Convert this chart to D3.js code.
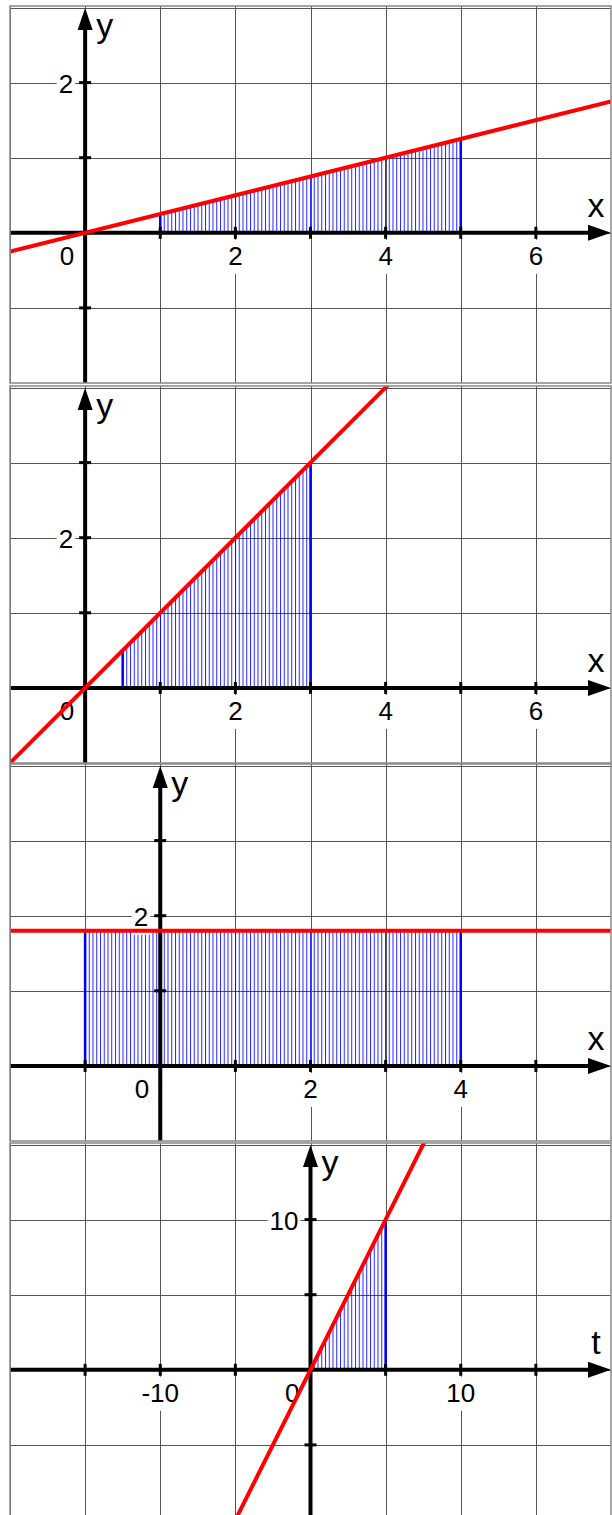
<!DOCTYPE html>
<html>
<head>
<meta charset="utf-8">
<script src="https://cdn.jsdelivr.net/npm/d3@7"></script>
<style>
  body { margin: 0; background: #fff; }
  svg { display: block; }
</style>
</head>
<body>
<div id="container"></div>
<script>
// DATA: one entry per panel, top to bottom
const xDomains = [[-1, 7], [-1, 7], [-2, 6], [-20, 20]];
const yDomains = [[-2, 3.02], [-1, 4.02], [-1, 4.02], [-10, 15.1]];
const gridSteps = [1, 1, 1, 5];
const slopes = [0.25, 1, 0, 2];          // red line y = m*x + c
const intercepts = [0, 0, 1.8, 0];
const intervalStart = [1, 0.5, -1, 0];   // shaded area under the line
const intervalEnd = [5, 3, 4, 5];
const xTickLabels = [[2, 4, 6], [2, 4, 6], [2, 4], [-10, 10]];
const yTickLabels = [[2], [2], [2], [10]];
const xAxisNames = ['x', 'x', 'x', 't'];
const yAxisNames = ['y', 'y', 'y', 'y'];

// LAYOUT
const W = 612, H = 1515;
const panelLeft = 10, panelRight = 611, panelH = 377;
const panelTops = [6, 386, 764, 1143];
const hatchGap = 3.75;
const font = '"Liberation Sans", Arial, sans-serif';

const svg = d3.select('#container')
  .append('svg')
  .attr('width', W)
  .attr('height', H)
  .style('background', '#fff');

const defs = svg.append('defs');

// vertical hatching for the shaded areas
const pattern = defs.append('pattern')
  .attr('id', 'hatch')
  .attr('patternUnits', 'userSpaceOnUse')
  .attr('x', panelLeft)
  .attr('y', 0)
  .attr('width', hatchGap)
  .attr('height', 10);
pattern.append('line')
  .attr('x1', 0.5).attr('x2', 0.5)
  .attr('y1', 0).attr('y2', 10)
  .attr('stroke', '#0000ff')
  .attr('stroke-opacity', 0.85)
  .attr('stroke-width', 1);

function addLabel(g, text, x, y, anchor, size) {
  const holder = g.append('g');
  const t = holder.append('text')
    .attr('x', x)
    .attr('y', y)
    .attr('text-anchor', anchor)
    .attr('font-family', font)
    .attr('font-size', size)
    .attr('fill', '#000')
    .text(text);
  const bb = t.node().getBBox();
  holder.insert('rect', 'text')
    .attr('x', bb.x - 2)
    .attr('y', bb.y - 1)
    .attr('width', bb.width + 4)
    .attr('height', bb.height + 4)
    .attr('fill', '#fff');
}

panelTops.forEach((top, i) => {
  const x = d3.scaleLinear().domain(xDomains[i]).range([panelLeft, panelRight]);
  const y = d3.scaleLinear().domain(yDomains[i]).range([top + panelH, top]);
  const step = gridSteps[i];
  const f = v => slopes[i] * v + intercepts[i];

  const clipId = 'clip' + i;
  defs.append('clipPath').attr('id', clipId)
    .append('rect')
    .attr('x', panelLeft).attr('y', top)
    .attr('width', panelRight - panelLeft).attr('height', panelH);

  const g = svg.append('g').attr('clip-path', `url(#${clipId})`);

  g.append('rect')
    .attr('x', panelLeft).attr('y', top)
    .attr('width', panelRight - panelLeft).attr('height', panelH)
    .attr('fill', '#fff');

  const [x0, x1] = xDomains[i];
  const [y0, y1] = yDomains[i];
  const xGrid = d3.range(Math.ceil(x0 / step) * step, x1 + 1e-9, step);
  const yGrid = d3.range(Math.ceil(y0 / step) * step, y1 + 1e-9, step);

  // GRID
  g.selectAll('.vgrid')
    .data(xGrid)
    .enter().append('line')
    .attr('x1', d => Math.round(x(d)) + 0.5).attr('x2', d => Math.round(x(d)) + 0.5)
    .attr('y1', top).attr('y2', top + panelH)
    .attr('stroke', '#555').attr('stroke-width', 1);
  g.selectAll('.hgrid')
    .data(yGrid)
    .enter().append('line')
    .attr('y1', d => Math.round(y(d)) + 0.5).attr('y2', d => Math.round(y(d)) + 0.5)
    .attr('x1', panelLeft).attr('x2', panelRight)
    .attr('stroke', '#555').attr('stroke-width', 1);

  // SHADED AREA
  const a = intervalStart[i], b = intervalEnd[i];
  const area = d3.area()
    .x(d => x(d))
    .y0(y(0))
    .y1(d => y(f(d)));
  g.append('path')
    .datum([a, b])
    .attr('d', area)
    .attr('fill', 'url(#hatch)');
  g.selectAll('.edge')
    .data([a, b])
    .enter().append('line')
    .attr('x1', d => x(d)).attr('x2', d => x(d))
    .attr('y1', y(0)).attr('y2', d => y(f(d)))
    .attr('stroke', '#0000ff').attr('stroke-width', 2.5);

  // TICK LABELS (white boxes break the grid)
  xTickLabels[i].forEach(v => addLabel(g, String(v), x(v), y(0) + 32, 'middle', 26));
  yTickLabels[i].forEach(v => addLabel(g, String(v), x(0) - 12, y(v) + 10, 'end', 26));
  addLabel(g, '0', x(0) - 11, y(0) + 32, 'end', 26);

  // AXES
  const ax = x(0), ay = y(0);
  g.append('line')
    .attr('x1', panelLeft).attr('x2', panelRight - 22)
    .attr('y1', ay).attr('y2', ay)
    .attr('stroke', '#000').attr('stroke-width', 4);
  g.append('path')
    .attr('d', `M${panelRight},${ay} L${panelRight - 23},${ay - 8} L${panelRight - 23},${ay + 8} Z`)
    .attr('fill', '#000');
  g.append('line')
    .attr('x1', ax).attr('x2', ax)
    .attr('y1', top + panelH).attr('y2', top + 22)
    .attr('stroke', '#000').attr('stroke-width', 4);
  g.append('path')
    .attr('d', `M${ax},${top + 2} L${ax - 7.5},${top + 24} L${ax + 7.5},${top + 24} Z`)
    .attr('fill', '#000');

  // ticks
  g.selectAll('.xtick')
    .data(xGrid.filter(d => d !== 0 && x(d) > panelLeft + 2 && x(d) < panelRight - 25))
    .enter().append('line')
    .attr('x1', d => x(d)).attr('x2', d => x(d))
    .attr('y1', ay - 6).attr('y2', ay + 6)
    .attr('stroke', '#000').attr('stroke-width', 3);
  g.selectAll('.ytick')
    .data(yGrid.filter(d => d !== 0 && y(d) > top + 25 && y(d) < top + panelH - 2))
    .enter().append('line')
    .attr('y1', d => y(d)).attr('y2', d => y(d))
    .attr('x1', ax - 6).attr('x2', ax + 6)
    .attr('stroke', '#000').attr('stroke-width', 3);

  // axis names
  g.append('text')
    .attr('x', panelRight - 15).attr('y', ay - 16)
    .attr('text-anchor', 'middle')
    .attr('font-family', font).attr('font-size', 34)
    .text(xAxisNames[i]);
  g.append('text')
    .attr('x', ax + 11).attr('y', top + 31)
    .attr('font-family', font).attr('font-size', 34)
    .text(yAxisNames[i]);

  // RED LINE
  g.append('line')
    .attr('x1', x(x0)).attr('y1', y(f(x0)))
    .attr('x2', x(x1)).attr('y2', y(f(x1)))
    .attr('stroke', '#ff0000').attr('stroke-width', 4);

  // panel frame
  svg.append('rect')
    .attr('x', panelLeft).attr('y', top)
    .attr('width', panelRight - panelLeft).attr('height', panelH)
    .attr('fill', 'none')
    .attr('stroke', '#888').attr('stroke-width', 1.5);
});
</script>
</body>
</html>
